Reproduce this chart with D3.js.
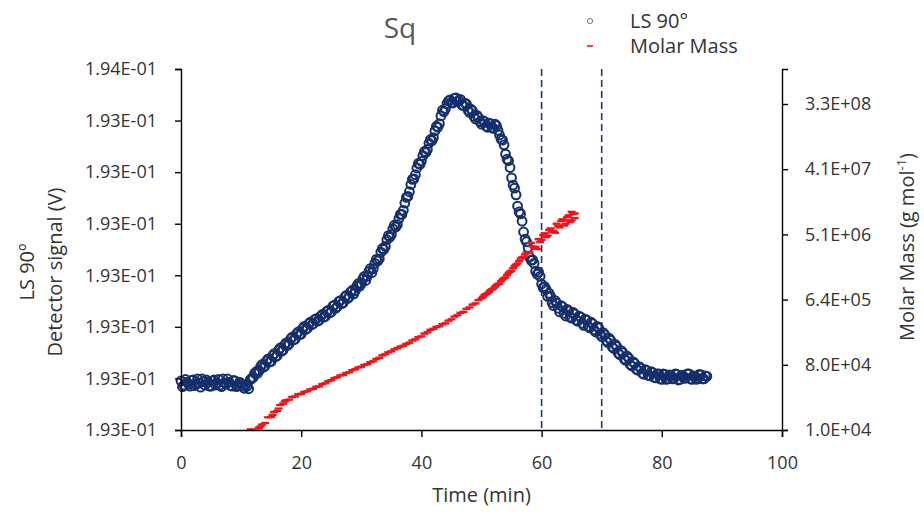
<!DOCTYPE html>
<html>
    <head>
        <meta charset="utf-8">
        <title>Sq</title>
        <script src="https://cdnjs.cloudflare.com/ajax/libs/d3/7.8.5/d3.min.js"></script>
        <style>
            body { margin: 0; background: #fff; }
            text { font-family: "Open Sans", "Liberation Sans", sans-serif; }
        </style>
    </head>
    <body>
        <script type="text/javascript">

            // LS 90 detector signal (V) against elution time (min)
            var lsTime = [0, 0.5, 1, 1.5, 2, 2.5, 3, 3.5, 4, 4.5, 5, 5.5, 6, 6.5, 7, 7.5, 8, 8.5, 9, 9.5,
                10, 10.5, 11, 11.5, 12, 12.5, 13, 13.5, 14, 14.5, 15, 15.5, 16, 16.5, 17, 17.5, 18, 18.5, 19, 19.5,
                20, 20.5, 21, 21.5, 22, 22.5, 23, 23.5, 24, 24.5, 25, 25.5, 26, 26.5, 27, 27.5, 28, 28.5, 29, 29.5,
                30, 30.5, 31, 31.5, 32, 32.5, 32.75, 33, 33.25, 33.5, 33.75, 34, 34.25, 34.5, 34.75,
                35, 35.25, 35.5, 35.75, 36, 36.25, 36.5, 36.75, 37, 37.25, 37.5, 37.75, 38, 38.25, 38.5, 38.75,
                39, 39.25, 39.5, 39.75, 40, 40.25, 40.5, 40.75, 41, 41.25, 41.5, 41.75, 42, 42.25, 42.5, 42.75,
                43, 43.25, 43.5, 43.75, 44, 44.25, 44.5, 45, 45.5, 46, 46.5, 47, 47.5, 48, 48.5, 49, 49.5,
                50, 50.5, 51, 51.5, 52, 52.5, 53, 53.25, 53.5, 53.75, 54, 54.25, 54.5, 54.75,
                55, 55.25, 55.5, 55.75, 56, 56.25, 56.5, 56.75, 57, 57.25, 57.5, 57.75, 58, 58.25, 58.5, 58.75,
                59, 59.25, 59.5, 59.75, 60, 60.25, 60.5, 60.75, 61, 61.5, 62, 62.5, 63, 63.5, 64, 64.5,
                65, 65.5, 66, 66.5, 67, 67.5, 68, 68.5, 69, 69.5, 70, 70.5, 71, 71.5, 72, 72.5, 73, 73.5, 74, 74.5,
                75, 75.5, 76, 76.5, 77, 77.5, 78, 78.5, 79, 79.5, 80, 80.5, 81, 81.5, 82, 82.5, 83, 83.5, 84, 84.5,
                85, 85.5, 86, 86.5, 87, 87.5];
            var lsSignal = [0.1934395, 0.1934387, 0.1934393, 0.1934385, 0.1934397, 0.1934389, 0.1934391, 0.1934399, 0.1934387, 0.1934393,
                0.1934385, 0.1934397, 0.1934391, 0.1934387, 0.1934399, 0.1934389, 0.1934393, 0.1934385, 0.1934395, 0.1934387,
                0.1934389, 0.1934381, 0.1934385, 0.1934397, 0.1934402, 0.1934413, 0.1934415, 0.1934427, 0.1934424, 0.1934438,
                0.1934433, 0.1934448, 0.1934444, 0.1934459, 0.1934455, 0.1934469, 0.1934467, 0.1934480, 0.1934476, 0.1934490,
                0.1934486, 0.1934501, 0.1934497, 0.1934509, 0.1934506, 0.1934516, 0.1934513, 0.1934524, 0.1934520, 0.1934532,
                0.1934529, 0.1934542, 0.1934539, 0.1934551, 0.1934547, 0.1934561, 0.1934558, 0.1934571, 0.1934570, 0.1934584,
                0.1934584, 0.1934598, 0.1934598, 0.1934613, 0.1934613, 0.1934631, 0.1934628, 0.1934632, 0.1934645, 0.1934652,
                0.1934650, 0.1934656, 0.1934669, 0.1934677, 0.1934674,
                0.1934679, 0.1934690, 0.1934697, 0.1934694, 0.1934698, 0.1934710, 0.1934718, 0.1934718, 0.1934726, 0.1934740,
                0.1934751, 0.1934753, 0.1934762, 0.1934776, 0.1934786, 0.1934787,
                0.1934795, 0.1934808, 0.1934817, 0.1934815, 0.1934821, 0.1934832, 0.1934840, 0.1934838, 0.1934844, 0.1934856,
                0.1934863, 0.1934861, 0.1934867, 0.1934880, 0.1934889, 0.1934887,
                0.1934894, 0.1934909, 0.1934920, 0.1934917, 0.1934923, 0.1934933, 0.1934938, 0.1934935, 0.1934943, 0.1934937,
                0.1934941, 0.1934929, 0.1934932, 0.1934916, 0.1934919, 0.1934903, 0.1934906,
                0.1934893, 0.1934898, 0.1934887, 0.1934894, 0.1934885, 0.1934890, 0.1934872, 0.1934864, 0.1934862, 0.1934853,
                0.1934835, 0.1934825, 0.1934822, 0.1934809,
                0.1934789, 0.1934775, 0.1934769, 0.1934756, 0.1934734, 0.1934723, 0.1934719, 0.1934705, 0.1934684, 0.1934670,
                0.1934665, 0.1934654, 0.1934635, 0.1934629, 0.1934630, 0.1934623,
                0.1934608, 0.1934602, 0.1934606, 0.1934598, 0.1934583, 0.1934576, 0.1934578, 0.1934573, 0.1934559, 0.1934559,
                0.1934541, 0.1934546, 0.1934529, 0.1934539, 0.1934521, 0.1934531,
                0.1934517, 0.1934525, 0.1934511, 0.1934519, 0.1934503, 0.1934513, 0.1934498, 0.1934506, 0.1934490, 0.1934498,
                0.1934481, 0.1934485, 0.1934470, 0.1934474, 0.1934458, 0.1934462, 0.1934446, 0.1934450, 0.1934435, 0.1934439,
                0.1934424, 0.1934429, 0.1934416, 0.1934420, 0.1934408, 0.1934415, 0.1934405, 0.1934411, 0.1934401, 0.1934409,
                0.1934398, 0.1934408, 0.1934399, 0.1934406, 0.1934400, 0.1934408, 0.1934398, 0.1934405, 0.1934401, 0.1934409,
                0.1934398, 0.1934404, 0.1934400, 0.1934407, 0.1934399, 0.1934404];

            // Extra LS 90 readings taken between the points above
            var lsTimeMid = [0.25, 0.75, 1.25, 1.75, 2.25, 2.75, 3.25, 3.75, 4.25, 4.75, 5.25, 5.75, 6.25, 6.75, 7.25, 7.75,
                8.25, 8.75, 9.25, 9.75, 10.25, 10.75, 11.25, 11.75, 12.25, 12.75, 13.25, 13.75, 14.25, 14.75, 15.25, 15.75,
                16.25, 16.75, 17.25, 17.75, 18.25, 18.75, 19.25, 19.75, 20.25, 20.75, 21.25, 21.75, 22.25, 22.75, 23.25, 23.75,
                24.25, 24.75, 25.25, 25.75, 26.25, 26.75, 27.25, 27.75, 28.25, 28.75, 29.25, 29.75, 30.25, 30.75, 31.25, 31.75, 32.25,
                44.75, 45.25, 45.75, 46.25, 46.75, 47.25, 47.75, 48.25, 48.75, 49.25, 49.75, 50.25, 50.75, 51.25, 51.75, 52.25, 52.75,
                61.25, 61.75, 62.25, 62.75, 63.25, 63.75, 64.25, 64.75, 65.25, 65.75, 66.25, 66.75, 67.25, 67.75, 68.25, 68.75,
                69.25, 69.75, 70.25, 70.75, 71.25, 71.75, 72.25, 72.75, 73.25, 73.75, 74.25, 74.75, 75.25, 75.75, 76.25, 76.75,
                77.25, 77.75, 78.25, 78.75, 79.25, 79.75, 80.25, 80.75, 81.25, 81.75, 82.25, 82.75, 83.25, 83.75, 84.25, 84.75,
                85.25, 85.75, 86.25, 86.75, 87.25];
            var lsSignalMid = [0.1934384, 0.1934398, 0.1934389, 0.1934396, 0.1934386, 0.1934399, 0.1934383, 0.1934394, 0.1934397, 0.1934385,
                0.1934395, 0.1934387, 0.1934398, 0.1934384, 0.1934392, 0.1934399, 0.1934386, 0.1934396, 0.1934384, 0.1934393,
                0.1934385, 0.1934388, 0.1934380, 0.1934400, 0.1934410, 0.1934410, 0.1934423, 0.1934422, 0.1934434, 0.1934432,
                0.1934444, 0.1934442, 0.1934455, 0.1934453, 0.1934465, 0.1934464, 0.1934477, 0.1934475, 0.1934487, 0.1934485,
                0.1934497, 0.1934495, 0.1934506, 0.1934504, 0.1934514, 0.1934511, 0.1934521, 0.1934519, 0.1934530, 0.1934527,
                0.1934540, 0.1934536, 0.1934549, 0.1934545, 0.1934558, 0.1934555, 0.1934568, 0.1934564, 0.1934579, 0.1934579,
                0.1934593, 0.1934590, 0.1934607, 0.1934605, 0.1934623,
                0.1934940, 0.1934934, 0.1934944, 0.1934939, 0.1934930, 0.1934934, 0.1934920, 0.1934922, 0.1934908, 0.1934910,
                0.1934898, 0.1934900, 0.1934889, 0.1934895, 0.1934886, 0.1934893, 0.1934881,
                0.1934565, 0.1934547, 0.1934551, 0.1934536, 0.1934541, 0.1934526, 0.1934534, 0.1934519, 0.1934528, 0.1934513,
                0.1934521, 0.1934507, 0.1934515, 0.1934501, 0.1934509, 0.1934494, 0.1934501, 0.1934486, 0.1934489, 0.1934473,
                0.1934478, 0.1934461, 0.1934466, 0.1934449, 0.1934454, 0.1934438, 0.1934443, 0.1934427, 0.1934432, 0.1934418,
                0.1934423, 0.1934410, 0.1934417, 0.1934406, 0.1934413, 0.1934402, 0.1934409, 0.1934399, 0.1934409, 0.1934398,
                0.1934407, 0.1934399, 0.1934409, 0.1934397, 0.1934406, 0.1934400, 0.1934409, 0.1934399, 0.1934405, 0.1934398,
                0.1934408, 0.1934399, 0.1934405];

            // Molar mass (g/mol) against elution time (min)
            var mmTime = [11.6, 12.9, 13, 13.25, 13.5, 14, 14.5, 15, 15.25, 15.5, 16, 16.25, 16.5, 17, 17.25, 17.5, 18, 18.5, 19, 19.5,
                20, 20.5, 21, 21.5, 22, 22.5, 23, 23.5, 24, 24.5, 25, 25.5, 26, 26.5, 27, 27.5, 28, 28.5, 29, 29.5,
                30, 30.5, 31, 31.5, 32, 32.5, 33, 33.5, 34, 34.5, 35, 35.5, 36, 36.5, 37, 37.5, 38, 38.5, 39, 39.5,
                40, 40.5, 41, 41.5, 42, 42.5, 43, 43.5, 44, 44.5, 45, 45.5, 46, 46.5, 47, 47.5, 48, 48.5, 49, 49.5,
                50, 50.5, 51, 51.5, 52, 52.5, 53, 53.5, 54, 54.5, 55, 55.5, 56, 56.5, 57, 57.5, 58, 58.25, 58.5,
                59, 59.25, 59.5, 60, 60.25, 60.5, 61, 61.25, 61.5, 62, 62.25, 62.5, 63, 63.25, 63.5, 63.75,
                64, 64.25, 64.5, 64.5, 64.75, 65, 65, 65.25, 65.5, 65.5,
                50.25, 50.75, 51.25, 51.75, 52.25, 52.75, 53.25, 53.75, 54.25, 54.75, 55.25, 55.75, 56.25, 56.75,
                57.25, 57.75, 58.75, 59.75, 60.75, 61.75, 62.75];
            var mmValue = [1.02e4, 1.05e4, 1.08e4, 1.12e4, 1.19e4, 1.25e4, 1.50e4, 1.52e4, 1.62e4, 1.78e4, 1.84e4, 1.98e4, 2.22e4, 2.31e4, 2.48e4, 2.58e4, 2.64e4, 2.87e4, 2.92e4, 3.12e4,
                3.17e4, 3.37e4, 3.44e4, 3.64e4, 3.72e4, 3.96e4, 4.03e4, 4.32e4, 4.44e4, 4.74e4, 4.89e4, 5.21e4, 5.38e4, 5.69e4, 5.82e4, 6.16e4, 6.30e4, 6.74e4, 6.94e4, 7.35e4,
                7.52e4, 7.97e4, 8.14e4, 8.68e4, 8.95e4, 9.64e4, 1.00e5, 1.08e5, 1.12e5, 1.19e5, 1.23e5, 1.31e5, 1.36e5, 1.43e5, 1.47e5, 1.56e5, 1.62e5, 1.74e5, 1.80e5, 1.93e5,
                1.98e5, 2.16e5, 2.26e5, 2.44e5, 2.52e5, 2.68e5, 2.73e5, 2.92e5, 3.00e5, 3.27e5, 3.41e5, 3.72e5, 3.88e5, 4.20e5, 4.33e5, 4.76e5, 4.99e5, 5.45e5, 5.67e5, 6.30e5,
                6.65e5, 7.40e5, 7.80e5, 8.67e5, 9.15e5, 1.02e6, 1.07e6, 1.22e6, 1.30e6, 1.50e6, 1.61e6, 1.88e6, 2.02e6, 2.36e6, 2.50e6, 2.90e6, 2.88e6, 3.90e6, 3.48e6,
                3.45e6, 3.20e6, 4.40e6, 4.30e6, 5.00e6, 5.30e6, 4.90e6, 5.90e6, 6.20e6, 5.70e6, 5.40e6, 7.20e6, 6.40e6, 7.90e6, 8.30e6, 6.80e6,
                7.20e6, 8.90e6, 9.40e6, 8.00e6, 7.60e6, 8.00e6, 1.05e7, 9.80e6, 1.00e7, 8.60e6,
                7.00e5, 7.60e5, 8.20e5, 8.90e5, 9.70e5, 1.05e6, 1.15e6, 1.26e6, 1.40e6, 1.56e6, 1.74e6, 1.95e6, 2.18e6, 2.45e6,
                2.70e6, 2.85e6, 3.30e6, 4.00e6, 4.70e6, 5.50e6, 6.70e6];

            // Dashed markers of the time window
            var windowLines = [60, 70];

            // Axis ticks and their labels
            var timeTicks = [0, 20, 40, 60, 80, 100];
            var lsTicks = [0.19343, 0.19344, 0.19345, 0.19346, 0.19347, 0.19348, 0.19349, 0.19350];
            var lsTickLabels = ["1.93E-01", "1.93E-01", "1.93E-01", "1.93E-01", "1.93E-01", "1.93E-01", "1.93E-01", "1.94E-01"];
            var mmTicks = [1e4, 8e4, 6.4e5, 5.12e6, 4.096e7, 3.2768e8];
            var mmTickLabels = ["1.0E+04", "8.0E+04", "6.4E+05", "5.1E+06", "4.1E+07", "3.3E+08"];

            var svg_width = 924;
            var svg_height = 520;
            var plot_left = 181, plot_right = 782, plot_top = 69, plot_bottom = 430;

            var blue = "#142f6b";
            var red = "#f0141a";

            var svg = d3.select("body")
                        .append("svg")
                        .attr("width", svg_width)
                        .attr("height", svg_height);

            // Scales
            var xScale = d3.scaleLinear().domain([0, 100]).range([plot_left, plot_right]);
            var yLeft = d3.scaleLinear().domain([0.19343, 0.19350]).range([plot_bottom, plot_top]);
            var yRight = d3.scaleLog().domain([1e4, 1e9]).range([plot_bottom, plot_top]);

            // Dashed vertical lines
            svg.selectAll(".window")
                .data(windowLines)
                .enter()
                .append("line")
                .attr("class", "window")
                .attr("x1", function(d) { return xScale(d); })
                .attr("x2", function(d) { return xScale(d); })
                .attr("y1", plot_top)
                .attr("y2", plot_bottom)
                .attr("stroke", "#1f3864")
                .attr("stroke-width", 1.6)
                .attr("stroke-dasharray", "7,4");

            // LS 90 points, both sets of readings
            var lsPoints = lsTime.map(function(t, i) { return [t, lsSignal[i]]; })
                .concat(lsTimeMid.map(function(t, i) { return [t, lsSignalMid[i]]; }));

            svg.append("g")
                .selectAll("circle")
                .data(lsPoints)
                .enter()
                .append("circle")
                .attr("cx", function(d) { return xScale(d[0]); })
                .attr("cy", function(d) { return yLeft(d[1]); })
                .attr("r", 4.4)
                .attr("fill", "none")
                .attr("stroke", blue)
                .attr("stroke-width", 2);

            // Molar mass dashes
            svg.append("g")
                .selectAll("line")
                .data(mmTime)
                .enter()
                .append("line")
                .attr("x1", function(d) { return xScale(d) - 4; })
                .attr("x2", function(d) { return xScale(d) + 4; })
                .attr("y1", function(d, i) { return yRight(mmValue[i]); })
                .attr("y2", function(d, i) { return yRight(mmValue[i]); })
                .attr("stroke", red)
                .attr("stroke-width", 2.4);

            // Axes
            var xAxis = svg.append("g")
                .attr("transform", "translate(0," + plot_bottom + ")")
                .call(d3.axisBottom(xScale).tickValues(timeTicks).tickSizeOuter(0).tickSize(7).tickPadding(19));

            var leftAxis = svg.append("g")
                .attr("transform", "translate(" + plot_left + ",0)")
                .call(d3.axisLeft(yLeft).tickValues(lsTicks)
                    .tickFormat(function(d, i) { return lsTickLabels[i]; })
                    .tickSizeOuter(0).tickSize(6).tickPadding(18));

            var rightAxis = svg.append("g")
                .attr("transform", "translate(" + plot_right + ",0)")
                .call(d3.axisRight(yRight).tickValues(mmTicks)
                    .tickFormat(function(d, i) { return mmTickLabels[i]; })
                    .tickSizeOuter(0).tickSize(6).tickPadding(17));

            [xAxis, leftAxis, rightAxis].forEach(function(a) {
                a.select(".domain").attr("stroke", "#000").attr("stroke-width", 1.4);
                a.selectAll(".tick line").attr("stroke", "#000").attr("stroke-width", 1.4);
                a.selectAll(".tick text")
                    .attr("fill", "#333")
                    .style("font-size", "18px")
                    .style("font-family", "'Open Sans', sans-serif");
            });

            // Title
            svg.append("text")
                .attr("x", 400)
                .attr("y", 38)
                .attr("text-anchor", "middle")
                .attr("fill", "#595959")
                .style("font-size", "28px")
                .text("Sq");

            // Legend
            svg.append("circle")
                .attr("cx", 590).attr("cy", 21).attr("r", 2.6)
                .attr("fill", "none").attr("stroke", "#6b7890").attr("stroke-width", 1);
            svg.append("line")
                .attr("x1", 587).attr("x2", 593).attr("y1", 46).attr("y2", 46)
                .attr("stroke", red).attr("stroke-width", 1.6);
            svg.append("text")
                .attr("x", 630).attr("y", 28)
                .attr("fill", "#333").style("font-size", "20px")
                .text("LS 90°");
            svg.append("text")
                .attr("x", 630).attr("y", 53)
                .attr("fill", "#333").style("font-size", "20px")
                .text("Molar Mass");

            // Axis titles
            svg.append("text")
                .attr("transform", "translate(" + xScale(50) + ",502)")
                .attr("text-anchor", "middle")
                .attr("fill", "#333").style("font-size", "20px")
                .text("Time (min)");

            svg.append("text")
                .attr("transform", "translate(34,272) rotate(-90)")
                .attr("text-anchor", "middle")
                .attr("fill", "#333").style("font-size", "20px")
                .text("LS 90º");

            svg.append("text")
                .attr("transform", "translate(62,272) rotate(-90)")
                .attr("text-anchor", "middle")
                .attr("fill", "#333").style("font-size", "20px")
                .text("Detector signal (V)");

            var mmTitle = svg.append("text")
                .attr("transform", "translate(914,247) rotate(-90)")
                .attr("text-anchor", "middle")
                .attr("fill", "#333").style("font-size", "20px");
            mmTitle.append("tspan").text("Molar Mass (g mol");
            mmTitle.append("tspan").attr("dy", -8).style("font-size", "13px").text("-1");
            mmTitle.append("tspan").attr("dy", 8).text(")");

        </script>
    </body>
</html>
